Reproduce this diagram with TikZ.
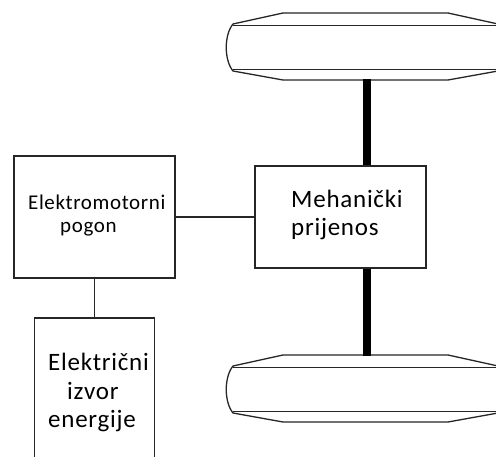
\documentclass[tikz,border=0pt]{standalone}
\usepackage{fontspec}
\setmainfont{Carlito}[LetterSpace=3]
\usetikzlibrary{positioning}

\tikzset{
  blok/.style={draw=black!85, line width=1.8pt, inner sep=0pt},
  veza/.style={draw=black!85, line width=1.4pt},
  osovina/.style={draw=black, line width=8pt},
  kotac/.style={draw=black!85, line width=1.3pt},
  veliki/.style={font=\fontsize{25}{28.5}\selectfont, align=left, inner sep=0pt},
  mali/.style={font=\fontsize{21}{23}\selectfont, align=left, inner sep=0pt},
}

\begin{document}
\begin{tikzpicture}[x=1pt,y=-1pt]
\clip (0,0) rectangle (496,457);
\fill[white] (0,0) rectangle (496,457);

%%% kotaci
\foreach \dy in {0,342} {
  \begin{scope}[shift={(0,\dy)}]
    \draw[kotac] (233,24) -- (283,13) -- (448,13) -- (498,24)
      .. controls (506,35) and (506,60) .. (498,71)
      -- (448,80) -- (283,80) -- (233,71)
      .. controls (224,60) and (224,35) .. (233,24);
    \draw[kotac] (233,25.5) -- (498,25.5) (233,69.5) -- (498,69.5);
  \end{scope}
}
\coordinate (gornjiKotac) at (367,79);
\coordinate (donjiKotac) at (367,356);

%%% blokovi
\node[blok, minimum width=161pt, minimum height=122pt] (motor) at (94.5,217) {};
\node[blok, minimum width=171pt, minimum height=102pt] (prijenos) at (340.5,217) {};
\node[blok, minimum width=120pt, minimum height=170pt] (izvor) at (94.5,403) {};

% tekst (anchor base = zadnji red)
\node[veliki, anchor=base west] (prijenosTxt) at (291,236) {Mehanički\\prijenos};
\node[mali, anchor=base west] (motorTxt) at (28,233) {Elektromotorni\\\hspace*{32pt}pogon};
\node[veliki, anchor=base west] (izvorTxt) at (48,428) {Električni\\\hspace*{19pt}izvor\\energije};

%%% veze
\draw[veza] (motor) -- (prijenos);
\draw[veza] (motor.south) -- (izvor.north);
\draw[osovina] (gornjiKotac) -- (gornjiKotac |- prijenos.north);
\draw[osovina] (donjiKotac) -- (donjiKotac |- prijenos.south);

\end{tikzpicture}
\end{document}
